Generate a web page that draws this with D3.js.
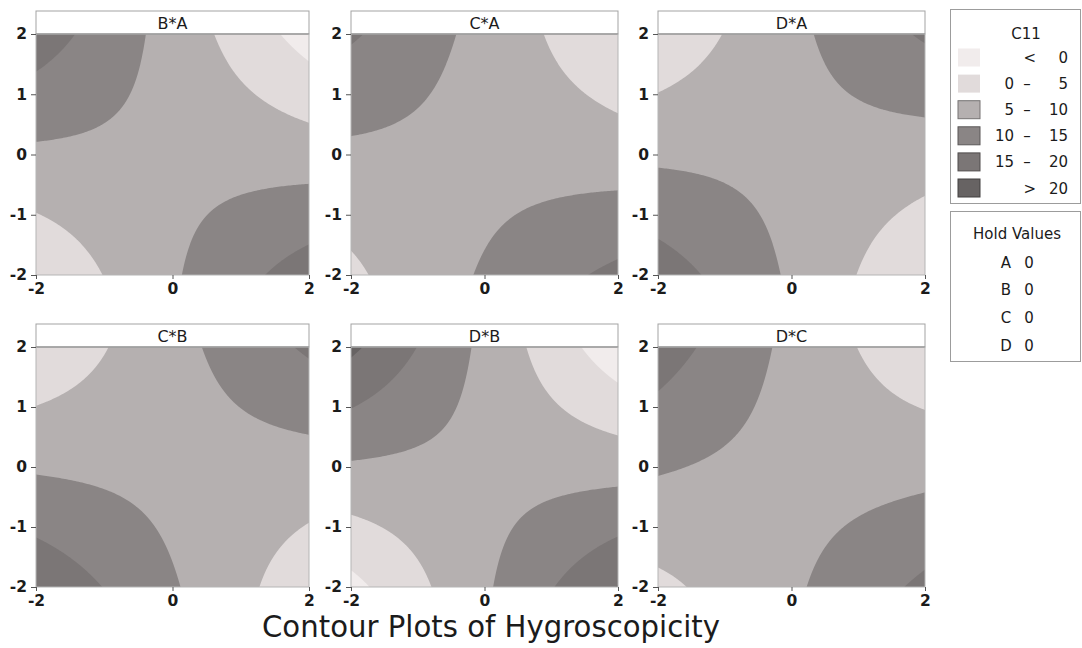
<!DOCTYPE html>
<html>
<head>
<meta charset="utf-8">
<script src="https://cdn.jsdelivr.net/npm/d3@7"></script>
<style>
  html, body { margin: 0; padding: 0; background: #ffffff; }
  svg { display: block; }
  text { font-family: "DejaVu Sans", Verdana, sans-serif; fill: #1b1b1b; }
</style>
</head>
<body>
<svg id="chart" width="1082" height="648"></svg>
<script>
// Fitted second-order response model for C11 (coded factor levels)
const factors = ["A", "B", "C", "D"];
const holdValues = [0, 0, 0, 0];
const intercept = 8.686;
const linearCoef = [-0.377, -0.338, -0.522, -0.121];
const squareCoef = [-0.084, 0.015, 0.195, 0.093];
const interactionPairs = ["AB", "AC", "AD", "BC", "BD", "CD"];
const interactionCoef = [-2.303, -1.703, 1.983, 2.004, -2.881, -1.783];

// Panels: vertical factor * horizontal factor
const panelTitles = ["B*A", "C*A", "D*A", "C*B", "D*B", "D*C"];

// Contour bands
const contourLevels = [0, 5, 10, 15, 20];
const bandLabels = [["<", "0"], ["0", "5"], ["5", "10"], ["10", "15"], ["15", "20"], [">", "20"]];
const bandColors = ["#f1ecec", "#e1dbdb", "#b5b0b0", "#8a8585", "#7b7676", "#676363"];

const axisDomain = [-2, 2];
const xTickValues = [-2, 0, 2];
const yTickValues = [-2, -1, 0, 1, 2];

const chartTitle = "Contour Plots of Hygroscopicity";
const legendTitle = "C11";
const holdTitle = "Hold Values";

// ---------------------------------------------------------------
function response(v) {
  let z = intercept;
  for (let i = 0; i < 4; i++) z += linearCoef[i] * v[i] + squareCoef[i] * v[i] * v[i];
  interactionPairs.forEach((p, k) => {
    const i = factors.indexOf(p[0]), j = factors.indexOf(p[1]);
    z += interactionCoef[k] * v[i] * v[j];
  });
  return z;
}

const svg = d3.select("#chart");

const colSpans = [[36, 309], [351, 618], [658, 925]];
const rowSpans = [[34, 275], [347, 587]];
const headerH = 23;
const gridN = 161;
const tickText = d => String(d);   // plain hyphen for negatives

panelTitles.forEach((title, k) => {
  const [yName, xName] = title.split("*");
  const xi = factors.indexOf(xName), yi = factors.indexOf(yName);
  const [x0, x1] = colSpans[k % 3];
  const [y0, y1] = rowSpans[Math.floor(k / 3)];

  const xs = d3.scaleLinear().domain(axisDomain).range([x0, x1]);
  const ys = d3.scaleLinear().domain(axisDomain).range([y1, y0]);

  // evaluate the surface on a regular grid, other factors at their hold values
  const step = (axisDomain[1] - axisDomain[0]) / (gridN - 1);
  const values = new Array(gridN * gridN);
  for (let j = 0; j < gridN; j++) {
    for (let i = 0; i < gridN; i++) {
      const v = holdValues.slice();
      v[xi] = axisDomain[0] + i * step;
      v[yi] = axisDomain[0] + j * step;
      values[i + j * gridN] = response(v);
    }
  }
  const lo = d3.min(values) - 1;
  const bands = d3.contours().size([gridN, gridN])
    .thresholds([lo, ...contourLevels])(values);

  const proj = d3.geoTransform({
    point(cx, cy) {
      this.stream.point(xs(axisDomain[0] + (cx - 0.5) * step),
                        ys(axisDomain[0] + (cy - 0.5) * step));
    }
  });
  const path = d3.geoPath(proj);

  const g = svg.append("g");
  const clipId = "clip" + k;
  g.append("clipPath").attr("id", clipId)
    .append("rect").attr("x", x0).attr("y", y0).attr("width", x1 - x0).attr("height", y1 - y0);

  g.append("g").attr("clip-path", `url(#${clipId})`)
    .selectAll("path").data(bands).join("path")
    .attr("d", path)
    .attr("fill", (d, i) => bandColors[i])
    .attr("stroke", "none");

  // panel frame and header strip
  g.append("rect").attr("x", x0).attr("y", y0 - headerH)
    .attr("width", x1 - x0).attr("height", headerH)
    .attr("fill", "#ffffff").attr("stroke", "#a3a3a3").attr("stroke-width", 1);
  g.append("line").attr("x1", x0).attr("x2", x1).attr("y1", y0).attr("y2", y0)
    .attr("stroke", "#6e6e6e").attr("stroke-width", 1.2);
  g.append("rect").attr("x", x0).attr("y", y0)
    .attr("width", x1 - x0).attr("height", y1 - y0)
    .attr("fill", "none").attr("stroke", "#b5b5b5").attr("stroke-width", 1);
  g.append("text").attr("x", (x0 + x1) / 2).attr("y", y0 - 5.5)
    .attr("text-anchor", "middle").attr("font-size", 16)
    .text(title);

  // axes
  const ax = g.append("g").attr("transform", `translate(0,${y1})`)
    .call(d3.axisBottom(xs).tickValues(xTickValues).tickSize(4).tickPadding(4).tickFormat(tickText));
  const ay = g.append("g").attr("transform", `translate(${x0},0)`)
    .call(d3.axisLeft(ys).tickValues(yTickValues).tickSize(5).tickPadding(4).tickFormat(tickText));
  [ax, ay].forEach(a => {
    a.attr("font-size", 15.5).attr("font-family", "DejaVu Sans, sans-serif");
    a.select(".domain").remove();
    a.selectAll(".tick line").attr("stroke", "#555");
    a.selectAll(".tick text").attr("font-size", 15.5).attr("font-weight", "bold")
      .attr("fill", "#222");
  });
});

// chart title
svg.append("text").attr("x", 491).attr("y", 637)
  .attr("text-anchor", "middle").attr("font-size", 31)
  .attr("textLength", 458).attr("lengthAdjust", "spacingAndGlyphs")
  .text(chartTitle);

// contour legend
const lg = svg.append("g");
lg.append("rect").attr("x", 950.5).attr("y", 9.5).attr("width", 130).attr("height", 194)
  .attr("fill", "#ffffff").attr("stroke", "#9c9c9c");
lg.append("text").attr("x", 1026).attr("y", 39).attr("text-anchor", "middle")
  .attr("font-size", 15).text(legendTitle);
const rowY = d3.scaleLinear().domain([0, bandLabels.length - 1]).range([57.5, 188]);
bandLabels.forEach((lab, i) => {
  const cy = rowY(i);
  lg.append("rect").attr("x", 958).attr("y", cy - 9).attr("width", 22).attr("height", 18)
    .attr("fill", bandColors[i])
    .attr("stroke", i >= 2 ? d3.color(bandColors[i]).darker(1.2) : "none")
    .attr("stroke-width", 1);
  const t = lg.append("g").attr("font-size", 15);
  if (lab[0] === "<" || lab[0] === ">") {
    t.append("text").attr("x", 1036).attr("y", cy + 5.5).attr("text-anchor", "end").text(lab[0]);
    t.append("text").attr("x", 1068).attr("y", cy + 5.5).attr("text-anchor", "end").text(lab[1]);
  } else {
    t.append("text").attr("x", 1014).attr("y", cy + 5.5).attr("text-anchor", "end").text(lab[0]);
    t.append("text").attr("x", 1027).attr("y", cy + 5.5).attr("text-anchor", "middle").text("\u2013");
    t.append("text").attr("x", 1068).attr("y", cy + 5.5).attr("text-anchor", "end").text(lab[1]);
  }
});

// hold values legend
const hg = svg.append("g");
hg.append("rect").attr("x", 950.5).attr("y", 211.5).attr("width", 130).attr("height", 150)
  .attr("fill", "#ffffff").attr("stroke", "#9c9c9c");
hg.append("text").attr("x", 1017).attr("y", 239).attr("text-anchor", "middle")
  .attr("font-size", 15).text(holdTitle);
const holdY = d3.scaleLinear().domain([0, factors.length - 1]).range([262, 345]);
factors.forEach((f, i) => {
  hg.append("text").attr("x", 1006).attr("y", holdY(i) + 5.5).attr("text-anchor", "middle")
    .attr("font-size", 15).text(f);
  hg.append("text").attr("x", 1029).attr("y", holdY(i) + 5.5).attr("text-anchor", "middle")
    .attr("font-size", 15).text(holdValues[i]);
});
</script>
</body>
</html>
